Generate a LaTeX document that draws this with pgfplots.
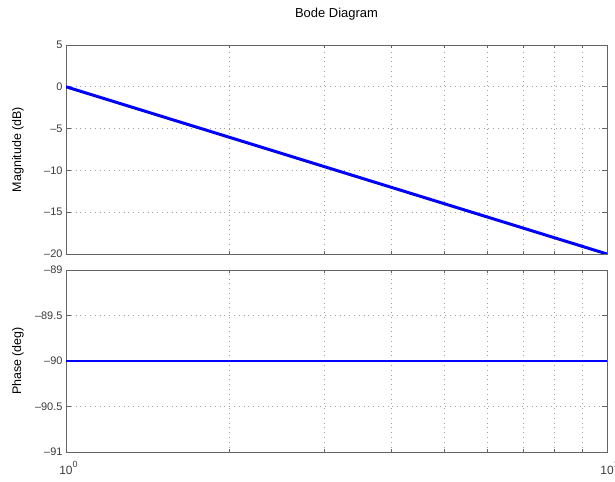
\documentclass[border=0pt]{standalone}
\usepackage{fontspec}
\setmainfont{Liberation Sans}
\usepackage{pgfplots}
\pgfplotsset{compat=1.18}
\definecolor{axgray}{RGB}{100,100,100}
\definecolor{txtgray}{RGB}{60,60,60}
\definecolor{gridgray}{RGB}{160,160,160}
\definecolor{bodeblue}{RGB}{0,0,255}

\pgfplotsset{
  bode/.style={
    scale only axis,
    width=541bp,
    xmin=1, xmax=10,
    xtick={1,10},
    minor xtick={2,3,4,5,6,7,8,9},
    axis line style={axgray, line width=0.9pt},
    tick style={axgray, line width=0.6pt},
    major tick length=5bp,
    minor tick length=3bp,
    tick align=inside,
    xmajorgrids, xminorgrids, ymajorgrids,
    grid style={gridgray, line width=0.6pt, dash pattern=on 0.6bp off 4.2bp},
    minor grid style={gridgray, line width=0.6pt, dash pattern=on 0.6bp off 4.2bp},
    tick label style={font=\fontsize{11}{13}\selectfont, text=txtgray},
    every axis y label/.style={at={(axis description cs:-0.0887,0.5)}, rotate=90, anchor=center, font=\fontsize{12.5}{14}\selectfont, text=black},
  }
}

\begin{document}
\begin{tikzpicture}
\path[use as bounding box] (0bp,0bp) rectangle (615bp,482bp);

% Magnitude of 1/s
\begin{semilogxaxis}[bode,
  at={(66bp,228bp)}, anchor=south west,
  height=209bp,
  ymin=-20, ymax=5,
  ytick={-20,-15,-10,-5,0,5},
  yticklabels={–20,–15,–10,–5,0,5},
  xticklabels={},
  ylabel={Magnitude (dB)},
  title={Bode Diagram},
  title style={at={(axis description cs:0.5,1.12)}, anchor=center, font=\fontsize{13}{15}\selectfont},
]
\addplot[bodeblue, line width=3pt] coordinates {(1,0) (10,-20)};
\end{semilogxaxis}

% Phase of 1/s
\begin{semilogxaxis}[bode,
  at={(66bp,30bp)}, anchor=south west,
  height=182bp,
  ymin=-91, ymax=-89,
  ytick={-91,-90.5,-90,-89.5,-89},
  yticklabels={–91,–90.5,–90,–89.5,–89},
  xticklabels={10\rlap{\raisebox{1.0ex}{\fontsize{9}{10}\selectfont 0}}, 10\rlap{\raisebox{1.0ex}{\fontsize{9}{10}\selectfont 1}}},
  xticklabel style={font=\fontsize{12}{14}\selectfont, yshift=-6bp},
  ylabel={Phase (deg)},
]
\addplot[bodeblue, line width=3pt] coordinates {(1,-90) (10,-90)};
\end{semilogxaxis}
\end{tikzpicture}
\end{document}
